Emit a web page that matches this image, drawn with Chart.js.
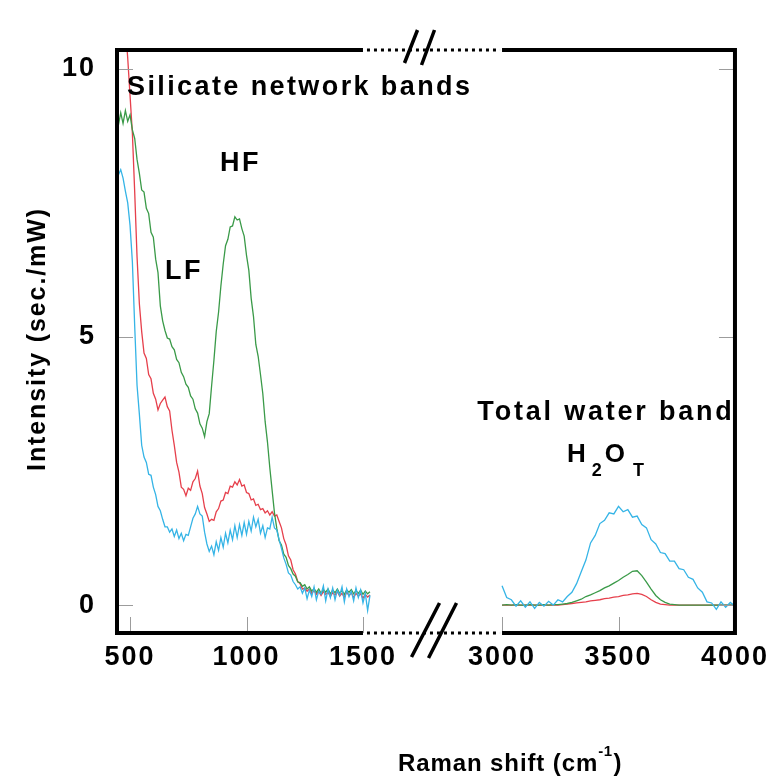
<!DOCTYPE html>
<html>
<head>
<meta charset="utf-8">
<title>Raman spectra</title>
<script src="https://cdn.jsdelivr.net/npm/chart.js@4.4.1/dist/chart.umd.min.js"></script>
<style>
  html, body { margin: 0; padding: 0; background: #fff; }
  #wrap { width: 773px; height: 779px; }
</style>
</head>
<body>
<div id="wrap"><canvas id="raman"></canvas></div>
<script>
'use strict';

/* ── Spectra: left window 450–1530 cm-1 (10 cm-1 step), right window 3000–4000 cm-1 (20 cm-1 step) ── */
var leftStart = 450, leftStep = 10;
var rightStart = 3000, rightStep = 20;

var greenLeft = [
  8.95, 9.18, 8.98, 9.22, 9.02, 9.14, 8.86, 8.70, 8.31, 8.05,
  7.74, 7.70, 7.40, 7.30, 6.95, 6.86, 6.45, 6.20, 5.58, 5.30,
  5.12, 4.98, 4.96, 4.82, 4.76, 4.58, 4.52, 4.34, 4.26, 4.12,
  4.06, 3.90, 3.84, 3.66, 3.58, 3.38, 3.30, 3.14, 3.42, 3.57,
  4.08, 4.56, 5.10, 5.46, 5.95, 6.36, 6.70, 6.82, 7.05, 7.07,
  7.24, 7.18, 7.20, 7.02, 6.88, 6.52, 6.24, 5.72, 5.38, 4.86,
  4.64, 4.30, 3.94, 3.42, 3.04, 2.56, 2.14, 1.72, 1.43, 1.20,
  1.12, 0.95, 0.89, 0.74, 0.68, 0.58, 0.54, 0.43, 0.42, 0.35,
  0.38, 0.30, 0.34, 0.26, 0.31, 0.24, 0.30, 0.22, 0.29, 0.24,
  0.30, 0.21, 0.28, 0.23, 0.30, 0.22, 0.27, 0.20, 0.28, 0.24,
  0.29, 0.21, 0.27, 0.22, 0.28, 0.20, 0.26, 0.21, 0.25
];

var redLeft = [
  12.0, 11.7, 11.3, 10.8, 10.2, 9.50, 8.80, 7.70, 6.50, 5.62,
  5.10, 4.70, 4.60, 4.30, 4.22, 3.95, 3.84, 3.64, 3.76, 3.82,
  3.88, 3.70, 3.62, 3.26, 2.98, 2.66, 2.48, 2.20, 2.16, 2.04,
  2.18, 2.14, 2.30, 2.36, 2.50, 2.22, 2.08, 1.82, 1.70, 1.56,
  1.60, 1.58, 1.74, 1.80, 1.94, 1.96, 2.10, 2.08, 2.22, 2.20,
  2.30, 2.24, 2.34, 2.22, 2.24, 2.10, 2.08, 1.96, 1.98, 1.86,
  1.88, 1.78, 1.80, 1.72, 1.76, 1.68, 1.74, 1.66, 1.68, 1.56,
  1.44, 1.24, 1.12, 0.92, 0.84, 0.66, 0.58, 0.44, 0.40, 0.30,
  0.32, 0.26, 0.30, 0.22, 0.27, 0.20, 0.26, 0.18, 0.25, 0.20,
  0.24, 0.16, 0.23, 0.19, 0.25, 0.17, 0.22, 0.15, 0.24, 0.18,
  0.23, 0.14, 0.22, 0.17, 0.21, 0.13, 0.20, 0.15, 0.19
];

var cyanLeft = [
  8.02, 8.12, 7.96, 7.72, 7.50, 7.08, 6.40, 5.20, 4.10, 3.56,
  2.98, 2.76, 2.66, 2.44, 2.42, 2.20, 2.06, 1.84, 1.76, 1.60,
  1.46, 1.46, 1.36, 1.42, 1.28, 1.40, 1.24, 1.34, 1.20, 1.32,
  1.30, 1.46, 1.62, 1.70, 1.84, 1.70, 1.66, 1.36, 1.14, 1.00,
  1.10, 0.94, 1.18, 1.02, 1.26, 1.08, 1.34, 1.16, 1.40, 1.22,
  1.48, 1.26, 1.50, 1.30, 1.54, 1.32, 1.56, 1.38, 1.64, 1.46,
  1.60, 1.34, 1.48, 1.26, 1.44, 1.42, 1.64, 1.44, 1.40, 1.22,
  1.06, 0.88, 0.76, 0.60, 0.56, 0.44, 0.38, 0.30, 0.34, 0.22,
  0.32, 0.12, 0.28, 0.16, 0.34, 0.10, 0.26, 0.20, 0.36, 0.08,
  0.30, 0.14, 0.32, 0.10, 0.28, 0.18, 0.34, 0.06, 0.30, 0.16,
  0.26, 0.08, 0.32, 0.14, 0.28, 0.04, 0.22, -0.10, 0.18
];

var greenRight = [
  0.00, 0.01, 0.00, 0.01, 0.00, 0.00, 0.01, 0.00, 0.00, 0.01,
  0.00, 0.01, 0.01, 0.02, 0.03, 0.05, 0.08, 0.11, 0.16, 0.19,
  0.23, 0.27, 0.32, 0.36, 0.41, 0.46, 0.52, 0.57, 0.63, 0.64,
  0.55, 0.43, 0.30, 0.18, 0.10, 0.05, 0.02, 0.01, 0.00, 0.00,
  0.00, 0.00, 0.00, 0.00, 0.00, 0.00, 0.00, 0.00, 0.00, 0.00,
  0.00
];

var redRight = [
  0.00, 0.00, 0.00, 0.00, 0.00, 0.00, 0.00, 0.00, 0.00, 0.00,
  0.00, 0.00, 0.00, 0.01, 0.02, 0.03, 0.04, 0.05, 0.06, 0.08,
  0.09, 0.10, 0.12, 0.13, 0.15, 0.16, 0.18, 0.19, 0.21, 0.22,
  0.20, 0.16, 0.10, 0.05, 0.02, 0.01, 0.00, 0.00, 0.00, 0.00,
  0.00, 0.00, 0.00, 0.00, 0.00, 0.00, 0.00, 0.00, 0.00, 0.00,
  0.00
];

var cyanRight = [
  0.36, 0.14, 0.10, -0.02, 0.08, -0.04, 0.06, -0.06, 0.05, -0.02,
  0.07, 0.00, 0.10, 0.06, 0.16, 0.24, 0.40, 0.62, 0.84, 1.16,
  1.30, 1.52, 1.58, 1.72, 1.70, 1.84, 1.74, 1.78, 1.64, 1.66,
  1.50, 1.44, 1.22, 1.14, 0.98, 0.96, 0.82, 0.82, 0.68, 0.66,
  0.52, 0.48, 0.32, 0.24, 0.06, 0.04, -0.08, 0.06, -0.04, 0.05,
  -0.02
];

var xTickLabels = [500, 1000, 1500, 3000, 3500, 4000];
var yTickLabels = [0, 5, 10];

/* broken axis: 1500–3000 cm-1 squeezed into a short dotted gap */
var GAP = 903;
function toAxis(w) { return w > 2000 ? w - GAP : w; }
function fromAxis(u) { return u > 1600 ? u + GAP : u; }

var FAMILY = '"Liberation Sans", Arial, Helvetica, sans-serif';

function buildSeries(left, right) {
  var pts = left.map(function (v, i) { return { x: leftStart + i * leftStep, y: v }; });
  pts.push({ x: toAxis(2200), y: null });
  right.forEach(function (v, i) { pts.push({ x: toAxis(rightStart + i * rightStep), y: v }); });
  return pts;
}

/* ── Text helper for annotations ── */
function drawText(ctx, str, x, y, size, spacing, align) {
  ctx.font = 'bold ' + size + 'px ' + FAMILY;
  ctx.letterSpacing = spacing + 'px';
  ctx.textAlign = align || 'left';
  ctx.textBaseline = 'middle';
  ctx.fillText(str, x, y);
  return ctx.measureText(str).width;
}

/* ── Frame, inner ticks, break marks and labels ── */
var framePlugin = {
  id: 'frame',
  beforeDraw: function (chart) {
    chart.ctx.letterSpacing = '2px';
  },
  afterDraw: function (chart) {
    var ctx = chart.ctx, a = chart.chartArea;
    var x = chart.scales.x, y = chart.scales.y;
    var gapL = x.getPixelForValue(toAxis(1500));
    var gapR = x.getPixelForValue(toAxis(3000));
    var mid = (gapL + gapR) / 2;

    ctx.save();
    ctx.letterSpacing = '0px';

    /* thin inner ticks */
    ctx.strokeStyle = '#9c9c9c';
    ctx.lineWidth = 1;
    ctx.beginPath();
    x.ticks.forEach(function (t) {
      var px = Math.round(x.getPixelForValue(t.value)) + 0.5;
      ctx.moveTo(px, a.bottom); ctx.lineTo(px, a.bottom - 16);
    });
    y.ticks.forEach(function (t) {
      var py = Math.round(y.getPixelForValue(t.value)) + 0.5;
      ctx.moveTo(a.left, py); ctx.lineTo(a.left + 16, py);
      ctx.moveTo(a.right, py); ctx.lineTo(a.right - 16, py);
    });
    ctx.stroke();

    /* heavy frame */
    ctx.strokeStyle = '#000';
    ctx.lineWidth = 4;
    ctx.beginPath();
    ctx.moveTo(a.left, a.top - 2); ctx.lineTo(a.left, a.bottom + 2);
    ctx.moveTo(a.right, a.top - 2); ctx.lineTo(a.right, a.bottom + 2);
    ctx.moveTo(a.left, a.top); ctx.lineTo(gapL, a.top);
    ctx.moveTo(gapR, a.top); ctx.lineTo(a.right, a.top);
    ctx.moveTo(a.left, a.bottom); ctx.lineTo(gapL, a.bottom);
    ctx.moveTo(gapR, a.bottom); ctx.lineTo(a.right, a.bottom);
    ctx.stroke();

    /* dotted gap */
    ctx.lineWidth = 3;
    ctx.setLineDash([3, 4]);
    ctx.beginPath();
    ctx.moveTo(gapL + 4, a.top); ctx.lineTo(gapR - 2, a.top);
    ctx.moveTo(gapL + 4, a.bottom); ctx.lineTo(gapR - 2, a.bottom);
    ctx.stroke();
    ctx.setLineDash([]);

    /* // break marks */
    ctx.lineWidth = 3.5;
    ctx.beginPath();
    ctx.moveTo(mid - 28, a.top + 13); ctx.lineTo(mid - 15, a.top - 20);
    ctx.moveTo(mid - 11, a.top + 15); ctx.lineTo(mid + 2, a.top - 20);
    ctx.moveTo(mid - 21, a.bottom + 24); ctx.lineTo(mid + 7, a.bottom - 30);
    ctx.moveTo(mid - 4, a.bottom + 25); ctx.lineTo(mid + 24, a.bottom - 30);
    ctx.stroke();

    /* band labels */
    ctx.fillStyle = '#000';
    drawText(ctx, 'Silicate network bands', 127, 88, 27, 2.4);
    drawText(ctx, 'HF', 220, 164, 27, 2.5);
    drawText(ctx, 'LF', 165, 272, 27, 2.5);
    drawText(ctx, 'Total water band', 606, 413, 27, 2.8, 'center');

    /* H2O with subscripts */
    var hx = 567;
    hx += drawText(ctx, 'H', hx, 455, 26, 0) + 6;
    hx += drawText(ctx, '2', hx, 471, 18, 0) + 3;
    hx += drawText(ctx, 'O', hx, 455, 26, 0) + 8;
    drawText(ctx, 'T', hx, 471, 18, 0);

    /* axis titles */
    var tx = 398;
    tx += drawText(ctx, 'Raman shift (cm', tx, 764, 24, 0.9);
    tx += drawText(ctx, '-1', tx, 752, 15, 0.5) + 1;
    drawText(ctx, ')', tx, 764, 24, 0);

    ctx.translate(38, 339);
    ctx.rotate(-Math.PI / 2);
    drawText(ctx, 'Intensity (sec./mW)', 0, 0, 25, 1.9, 'center');
    ctx.restore();
  }
};

var tickFont = { family: FAMILY, size: 27, weight: 'bold' };

new Chart(document.getElementById('raman'), {
  type: 'line',
  data: {
    datasets: [
      { label: 'cyan', data: buildSeries(cyanLeft, cyanRight), borderColor: '#35b4e6', order: 0 },
      { label: 'green', data: buildSeries(greenLeft, greenRight), borderColor: '#3a9a48', order: 1 },
      { label: 'red', data: buildSeries(redLeft, redRight), borderColor: '#e6404c', order: 2 }
    ]
  },
  options: {
    responsive: true, maintainAspectRatio: false, animation: false,
    devicePixelRatio: 1,
    layout: { padding: { left: 0, right: 33, top: 50, bottom: 0 } },
    elements: {
      line: { borderWidth: 1.3, tension: 0 },
      point: { radius: 0 }
    },
    spanGaps: false,
    plugins: { legend: { display: false }, tooltip: { enabled: false } },
    scales: {
      x: {
        type: 'linear', min: 444, max: 3097,
        afterBuildTicks: function (s) {
          s.ticks = xTickLabels.map(function (w) { return { value: toAxis(w) }; });
        },
        afterFit: function (s) { s.height = 146; },
        ticks: {
          color: '#000', font: tickFont, padding: 8, maxRotation: 0, autoSkip: false,
          callback: function (v) { return String(fromAxis(v)); }
        },
        grid: { display: false, drawTicks: false },
        border: { display: false }
      },
      y: {
        min: -0.52, max: 10.35,
        afterBuildTicks: function (s) {
          s.ticks = yTickLabels.map(function (v) { return { value: v }; });
        },
        afterFit: function (s) { s.width = 117; },
        ticks: { color: '#000', font: tickFont, padding: 21 },
        grid: { display: false, drawTicks: false },
        border: { display: false }
      }
    }
  },
  plugins: [framePlugin]
});
</script>
</body>
</html>
